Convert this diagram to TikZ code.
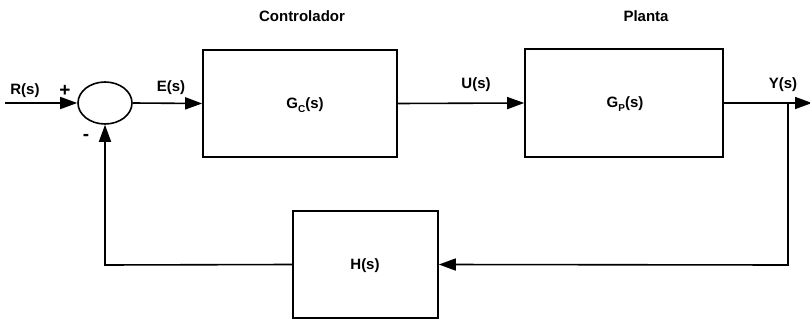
\documentclass[tikz,border=0pt]{standalone}
\usepackage{fontspec}
\setmainfont{Liberation Sans}
\usetikzlibrary{arrows.meta,shapes.geometric}
\newcommand{\lowsub}[1]{\raisebox{-3.5pt}{\fontsize{10}{12}\selectfont #1}}
\begin{document}
\begin{tikzpicture}[x=1pt,y=-1pt,
  blk/.style={draw,line width=1.6pt,minimum width=#1,inner sep=0pt},
  lbl/.style={font=\fontsize{15}{18}\selectfont\bfseries,inner sep=0pt},
  sgn/.style={font=\fontsize{19}{22}\selectfont\bfseries,inner sep=0pt},
  con/.style={line width=1.6pt,-{Triangle[length=17pt,width=12pt]}}]
\useasboundingbox (0,0) rectangle (810,320);
\node[draw,line width=1.6pt,ellipse,minimum width=54pt,minimum height=42pt,inner sep=0pt] (sum) at (105,103) {};
\node[blk=194pt,minimum height=107pt] (gc) at (300,103.5) {};
\node[lbl] at (305,105) {G\lowsub{C}(s)};
\node[blk=198pt,minimum height=108pt] (gp) at (624,103) {};
\node[lbl] at (625,104) {G\lowsub{P}(s)};
\node[blk=145pt,minimum height=107pt] (h) at (365.5,264.5) {};
\node[lbl] at (365,266) {H(s)};
\node[lbl] (ctl) at (302,16) {Controlador};
\node[lbl] (pl) at (646,16) {Planta};
\node[lbl] (r) at (25,91) {R(s)};
\node[sgn] (plus) at (65,91) {+};
\node[sgn] (minus) at (86,137) {-};
\node[lbl] (e) at (171,88) {E(s)};
\node[lbl] (u) at (476,85) {U(s)};
\node[lbl] (y) at (783,85) {Y(s)};
\coordinate (in) at (5,103);
\coordinate (out) at (812,103);
\coordinate (br) at (788,103);
\coordinate (brd) at (788,265);
\coordinate (fbl) at (105,265);
\draw[con] (in) -- (sum.west);
\draw[con] (sum.east) -- (gc.west);
\draw[con] (gc.east) -- (gp.west);
\draw[con] (gp.east) -- (out);
\draw[con] (br) -- (brd) -- (h.east);
\draw[con] (h.west) -- (fbl) -- (sum.south);
\end{tikzpicture}
\end{document}
